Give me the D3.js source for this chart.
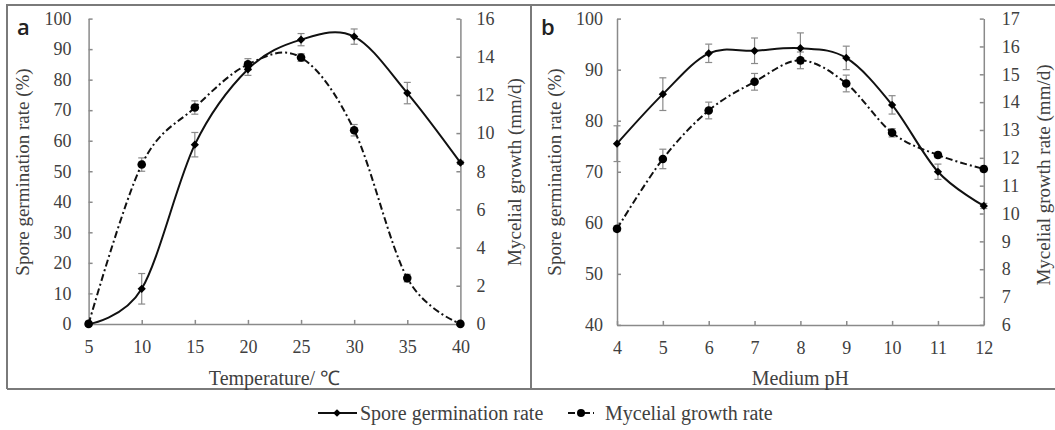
<!DOCTYPE html>
<html>
<head>
<meta charset="utf-8">
<script src="https://cdn.jsdelivr.net/npm/d3@7"></script>
<style>
  body { margin: 0; background: #fff; }
</style>
</head>
<body>
<script>
// panel a: temperature
const temps = [5, 10, 15, 20, 25, 30, 35, 40];
const sporeTemp = [0, 11.5, 58.7, 83.4, 93.1, 94.1, 75.6, 52.8];
const sporeTempErr = [0.8, 5, 4, 2, 2, 2.5, 3.5, 0.5];
const mycTemp = [0, 8.35, 11.34, 13.6, 13.96, 10.15, 2.4, 0];
const mycTempErr = [0.05, 0.35, 0.35, 0.3, 0.2, 0.3, 0.2, 0.05];

// panel b: pH
const phs = [4, 5, 6, 7, 8, 9, 10, 11, 12];
const sporePh = [75.5, 85.2, 93.2, 93.7, 94.2, 92.3, 83.1, 70.0, 63.3];
const sporePhErr = [3.5, 3.2, 1.8, 2.5, 3, 2.3, 1.8, 1.5, 0.5];
const mycPh = [9.45, 11.96, 13.7, 14.73, 15.5, 14.67, 12.9, 12.1, 11.6];
const mycPhErr = [0.1, 0.35, 0.3, 0.3, 0.3, 0.3, 0.15, 0.1, 0.1];

const W = 1055, H = 430;
const serif = "'Liberation Serif', 'Times New Roman', serif";
const svg = d3.select("body").append("svg")
  .attr("width", W).attr("height", H);
svg.append("rect").attr("width", W).attr("height", H).attr("fill", "#fff");

// panel frames
const frame = svg.append("g").attr("fill", "none").attr("stroke", "#7a7a7a").attr("stroke-width", 2);
frame.append("path").attr("d", "M7,389 L7,5 L1055,5");
frame.append("path").attr("d", "M7,389 L1055,389");
frame.append("path").attr("d", "M531,5 L531,389");

const dashMyc = "7,3,2,3";

function label(sel, size) {
  return sel.style("font-family", serif).attr("font-size", size).attr("fill", "#404040");
}

function drawPanel(p) {
  const g = svg.append("g");
  const x = d3.scaleLinear().domain(p.xDomain).range([p.left, p.right]);
  const yL = d3.scaleLinear().domain(p.yLDomain).range([p.bottom, p.top]);
  const yR = d3.scaleLinear().domain(p.yRDomain).range([p.bottom, p.top]);

  const styleAxis = sel => {
    sel.selectAll("path, line").attr("stroke", "#8a8a8a").attr("stroke-width", 1.5);
    label(sel.selectAll("text"), 18);
  };

  g.append("g").attr("transform", `translate(0,${p.bottom})`)
    .call(d3.axisBottom(x).tickValues(p.xs).tickSizeInner(-4).tickSizeOuter(0).tickPadding(16))
    .call(styleAxis);
  g.append("g").attr("transform", `translate(${p.left},0)`)
    .call(d3.axisLeft(yL).tickValues(p.yLTicks).tickSizeInner(-4).tickSizeOuter(0).tickPadding(p.padL))
    .call(styleAxis);
  g.append("g").attr("transform", `translate(${p.right},0)`)
    .call(d3.axisRight(yR).tickValues(p.yRTicks).tickSizeInner(-4).tickSizeOuter(0).tickPadding(p.padR))
    .call(styleAxis);

  const spore = p.xs.map((v, i) => ({x: v, y: p.spore[i], e: p.sporeErr[i]}));
  const myc = p.xs.map((v, i) => ({x: v, y: p.myc[i], e: p.mycErr[i]}));

  // error bars
  const eb = g.append("g").attr("stroke", "#8a8a8a").attr("stroke-width", 1.2);
  [[spore, yL], [myc, yR]].forEach(([data, ys]) => {
    data.forEach(d => {
      const cx = x(d.x), y1 = ys(d.y - d.e), y2 = ys(d.y + d.e);
      eb.append("line").attr("x1", cx).attr("x2", cx).attr("y1", y1).attr("y2", y2);
      eb.append("line").attr("x1", cx - 3.5).attr("x2", cx + 3.5).attr("y1", y1).attr("y2", y1);
      eb.append("line").attr("x1", cx - 3.5).attr("x2", cx + 3.5).attr("y1", y2).attr("y2", y2);
    });
  });

  const lineS = d3.line().x(d => x(d.x)).y(d => yL(d.y)).curve(d3.curveCardinal.tension(0));
  const lineM = d3.line().x(d => x(d.x)).y(d => yR(d.y)).curve(d3.curveCardinal.tension(0));

  g.append("path").datum(myc).attr("d", lineM)
    .attr("fill", "none").attr("stroke", "#111").attr("stroke-width", 2)
    .attr("stroke-dasharray", dashMyc);
  g.append("path").datum(spore).attr("d", lineS)
    .attr("fill", "none").attr("stroke", "#111").attr("stroke-width", 2);

  g.selectAll(".mc").data(myc).enter().append("circle")
    .attr("cx", d => x(d.x)).attr("cy", d => yR(d.y)).attr("r", 4.3).attr("fill", "#000");
  g.selectAll(".sd").data(spore).enter().append("path")
    .attr("d", d3.symbol(d3.symbolSquare, 34)())
    .attr("transform", d => `translate(${x(d.x)},${yL(d.y)}) rotate(45)`)
    .attr("fill", "#000");

  // titles
  g.append("text").attr("x", (p.left + p.right) / 2).attr("y", 385)
    .attr("text-anchor", "middle").call(label, 20).text(p.xTitle);
  g.append("text").attr("transform", `translate(${p.yLx},${p.yLc}) rotate(-90)`)
    .attr("text-anchor", "middle").attr("dy", "0.35em").call(label, 19).text(p.yLTitle);
  g.append("text").attr("transform", `translate(${p.yRx},${p.yRc}) rotate(-90)`)
    .attr("text-anchor", "middle").attr("dy", "0.35em").call(label, 19).text(p.yRTitle);
  g.append("text").attr("x", p.tagX).attr("y", 35)
    .style("font-family", "'Open Sans', sans-serif").attr("font-size", 22).attr("font-weight", 600)
    .attr("fill", "#222").text(p.tag);
}

drawPanel({
  xs: temps, spore: sporeTemp, sporeErr: sporeTempErr, myc: mycTemp, mycErr: mycTempErr,
  xDomain: [5, 40], yLDomain: [0, 100], yRDomain: [0, 16],
  yLTicks: d3.range(0, 101, 10), yRTicks: d3.range(0, 17, 2),
  left: 88.6, right: 460.4, top: 18.6, bottom: 323.9, padL: 17, padR: 16,
  xTitle: "Temperature/ \u2103", yLTitle: "Spore germination  rate (%)", yRTitle: "Mycelial growth (mm/d)",
  yLx: 22, yLc: 172, yRx: 514, yRc: 172, tag: "a", tagX: 17
});

drawPanel({
  xs: phs, spore: sporePh, sporeErr: sporePhErr, myc: mycPh, mycErr: mycPhErr,
  xDomain: [4, 12], yLDomain: [40, 100], yRDomain: [6, 17],
  yLTicks: d3.range(40, 101, 10), yRTicks: d3.range(6, 18, 1),
  left: 617, right: 983.8, top: 18.6, bottom: 324.9, padL: 14, padR: 18,
  xTitle: "Medium pH", yLTitle: "Spore germination  rate (%)", yRTitle: "Mycelial  growth  rate (mm/d)",
  yLx: 554, yLc: 172, yRx: 1043, yRc: 175, tag: "b", tagX: 541
});

// legend
const lg = svg.append("g");
lg.append("line").attr("x1", 318).attr("x2", 357).attr("y1", 413).attr("y2", 413)
  .attr("stroke", "#111").attr("stroke-width", 2);
lg.append("path").attr("d", d3.symbol(d3.symbolSquare, 30)())
  .attr("transform", "translate(337,413) rotate(45)").attr("fill", "#000");
lg.append("text").attr("x", 360).attr("y", 413).attr("dy", "0.35em").call(label, 20)
  .text("Spore germination rate");
lg.append("line").attr("x1", 568).attr("x2", 594).attr("y1", 413).attr("y2", 413)
  .attr("stroke", "#111").attr("stroke-width", 2).attr("stroke-dasharray", "7,3,2,3");
lg.append("circle").attr("cx", 581).attr("cy", 413).attr("r", 4).attr("fill", "#000");
lg.append("text").attr("x", 605).attr("y", 413).attr("dy", "0.35em").call(label, 20)
  .text("Mycelial growth rate");
</script>
</body>
</html>
